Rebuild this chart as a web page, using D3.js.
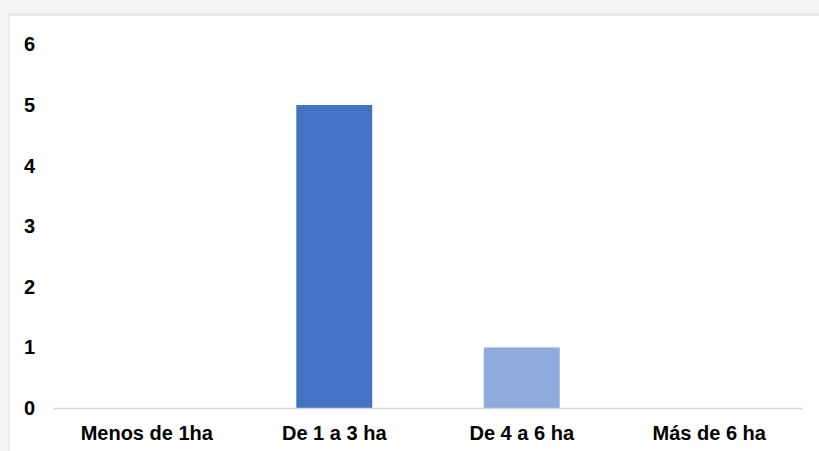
<!DOCTYPE html>
<html lang="es">
<head>
<meta charset="utf-8">
<title>Superficie</title>
<script src="https://cdnjs.cloudflare.com/ajax/libs/d3/7.8.5/d3.min.js"></script>
<style>
  body { margin: 0; background: #f4f4f4; }
  svg { display: block; font-family: "Liberation Sans", Arial, sans-serif; }
</style>
</head>
<body>
<script>
  // data
  var categorias = ["Menos de 1ha", "De 1 a 3 ha", "De 4 a 6 ha", "Más de 6 ha"];
  var valores = [0, 5, 1, 0];
  var colores = ["#4472c4", "#4472c4", "#8faadc", "#8faadc"];
  var yTicks = [0, 1, 2, 3, 4, 5, 6];

  var W = 819, H = 451;
  var svg = d3.select("body").append("svg")
      .attr("width", W)
      .attr("height", H);

  // grey frame + white card
  svg.append("rect").attr("width", W).attr("height", H).attr("fill", "#f5f5f5");
  svg.append("rect").attr("x", 8).attr("y", 13).attr("width", W).attr("height", H)
     .attr("fill", "#e9e9e9");
  svg.append("rect").attr("x", 10).attr("y", 16).attr("width", W).attr("height", H)
     .attr("fill", "#ffffff");

  var x = d3.scaleBand()
      .domain(categorias)
      .range([53, 803])
      .paddingInner(0.595)
      .paddingOuter(0.2975);

  var y = d3.scaleLinear()
      .domain([0, 6])
      .range([408, 44.4]);

  // bars
  svg.selectAll("rect.bar")
     .data(valores)
     .enter().append("rect")
     .attr("class", "bar")
     .attr("x", function(d, i) { return x(categorias[i]); })
     .attr("width", x.bandwidth())
     .attr("y", function(d) { return y(d); })
     .attr("height", function(d) { return y(0) - y(d); })
     .attr("fill", function(d, i) { return colores[i]; });

  // baseline
  svg.append("line")
     .attr("x1", 53).attr("x2", 803)
     .attr("y1", y(0) + 0.5).attr("y2", y(0) + 0.5)
     .attr("stroke", "#d9d9d9").attr("stroke-width", 1.5);

  // y labels
  var yAxis = d3.axisLeft(y).tickValues(yTicks).tickFormat(d3.format("d"))
      .tickSize(0).tickPadding(0);
  var gy = svg.append("g").attr("transform", "translate(35,0)").call(yAxis);
  gy.select(".domain").remove();
  gy.selectAll("text")
    .attr("font-size", "20px").attr("font-weight", "bold").attr("fill", "#000")
    .attr("font-family", "Liberation Sans, Arial, sans-serif");

  // x labels
  var xAxis = d3.axisBottom(x).tickSize(0).tickPadding(0);
  var gx = svg.append("g").attr("transform", "translate(0,425.5)").call(xAxis);
  gx.select(".domain").remove();
  gx.selectAll("text")
    .attr("font-size", "20px").attr("font-weight", "bold").attr("fill", "#000")
    .attr("font-family", "Liberation Sans, Arial, sans-serif");
</script>
</body>
</html>
